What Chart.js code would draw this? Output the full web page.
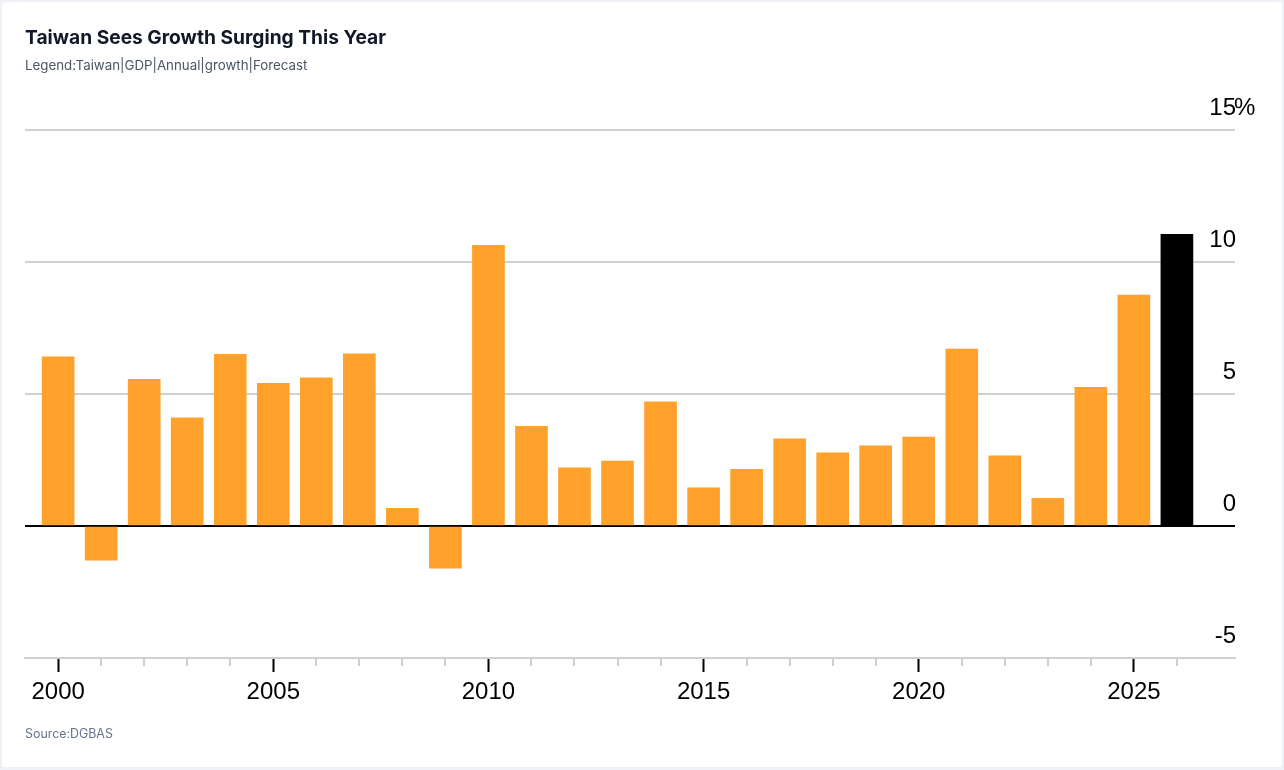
<!DOCTYPE html>
<html>
<head>
<meta charset="utf-8">
<script src="https://cdn.jsdelivr.net/npm/chart.js@4.4.1/dist/chart.umd.min.js"></script>
<style>
  html, body { margin: 0; padding: 0; background: #eef1f5; }
  body { width: 1284px; height: 770px; position: relative; overflow: hidden; }
  .card { position: absolute; left: 2px; top: 2px; width: 1280px; height: 765px; background: #fff; border-radius: 3px; }
  #chart { position: absolute; left: 0; top: 0; }
  .title { position: absolute; left: 25px; top: 26px; font: 700 19.2px/22px Inter, "Noto Sans", sans-serif; color: #111827; }
  .subtitle { position: absolute; left: 25px; top: 57px; font: 400 13.3px/16px Inter, "Noto Sans", sans-serif; color: #4b5563; }
  .source { position: absolute; left: 25px; top: 727px; font: 400 12.4px/14px Inter, "Noto Sans", sans-serif; color: #64748b; }
</style>
</head>
<body>
<div class="card"></div>
<canvas id="chart" width="1284" height="770"></canvas>
<div class="title">Taiwan Sees Growth Surging This Year</div>
<div class="subtitle">Legend:Taiwan|GDP|Annual|growth|Forecast</div>
<div class="source">Source:DGBAS</div>
<script>
const years = [2000, 2001, 2002, 2003, 2004, 2005, 2006, 2007, 2008, 2009,
               2010, 2011, 2012, 2013, 2014, 2015, 2016, 2017, 2018, 2019,
               2020, 2021, 2022, 2023, 2024, 2025, 2026]
const growth = [6.41, -1.29, 5.56, 4.10, 6.50, 5.40, 5.61, 6.52, 0.67, -1.60,
                10.63, 3.78, 2.20, 2.46, 4.70, 1.45, 2.15, 3.30, 2.77, 3.04,
                3.37, 6.70, 2.66, 1.05, 5.25, 8.75, 11.05]
const forecastYear = 2026
const xTickLabels = [2000, 2005, 2010, 2015, 2020, 2025]
const yTicks = [-5, 0, 5, 10, 15]

const orange = '#ffa12b'
const gridGray = '#d0d0d0'
const tickFont = { family: '"Liberation Sans", Arial, sans-serif', size: 24 }

// short grey ticks for the in-between years + the "%" after the top label
const extras = {
  id: 'extras',
  afterDraw(chart) {
    const ctx = chart.ctx
    const x = chart.scales.x
    const y = chart.scales.y
    ctx.save()
    ctx.strokeStyle = gridGray
    ctx.lineWidth = 2
    years.forEach(yr => {
      if (xTickLabels.includes(yr)) return
      const px = Math.round(x.getPixelForValue(yr))
      ctx.beginPath()
      ctx.moveTo(px, x.top)
      ctx.lineTo(px, x.top + 8)
      ctx.stroke()
    })
    ctx.font = '24px ' + tickFont.family
    ctx.fillStyle = '#000'
    ctx.textAlign = 'left'
    ctx.textBaseline = 'middle'
    ctx.fillText('%', chart.chartArea.right - 1, y.getPixelForValue(15) - 22)
    ctx.restore()
  }
}

new Chart(document.getElementById('chart'), {
  type: 'bar',
  data: {
    datasets: [{
      data: years.map((yr, i) => ({ x: yr, y: growth[i] })),
      backgroundColor: years.map(yr => yr === forecastYear ? '#000000' : orange),
      borderWidth: 0,
      barThickness: 32
    }]
  },
  options: {
    responsive: false,
    animation: false,
    layout: { padding: { left: 25, right: 47, top: 130, bottom: 0 } },
    plugins: { legend: { display: false }, tooltip: { enabled: false } },
    scales: {
      x: {
        type: 'linear',
        min: 1999.23,
        max: 2027.35,
        offset: false,
        afterBuildTicks: s => { s.ticks = years.map(v => ({ value: v })) },
        afterFit: s => { s.height = 112 },
        grid: {
          offset: false,
          drawOnChartArea: false,
          drawTicks: true,
          tickLength: 14,
          tickWidth: 2,
          tickColor: c => xTickLabels.includes(c.tick && c.tick.value) ? '#000' : 'rgba(0,0,0,0)'
        },
        border: { display: true, color: gridGray, width: 2 },
        ticks: {
          autoSkip: false,
          maxRotation: 0,
          padding: 6,
          color: '#000',
          font: tickFont,
          callback: v => xTickLabels.includes(v) ? String(v) : ''
        }
      },
      y: {
        position: 'right',
        min: -5,
        max: 15,
        afterBuildTicks: s => { s.ticks = yTicks.map(v => ({ value: v })) },
        grid: {
          drawTicks: false,
          color: c => c.tick && c.tick.value === 0 ? '#000' : gridGray,
          lineWidth: 2
        },
        border: { display: false },
        ticks: {
          mirror: true,
          padding: 1,
          labelOffset: -22,
          color: '#000',
          font: tickFont,
          callback: v => String(v)
        }
      }
    }
  },
  plugins: [extras]
})
</script>
</body>
</html>
